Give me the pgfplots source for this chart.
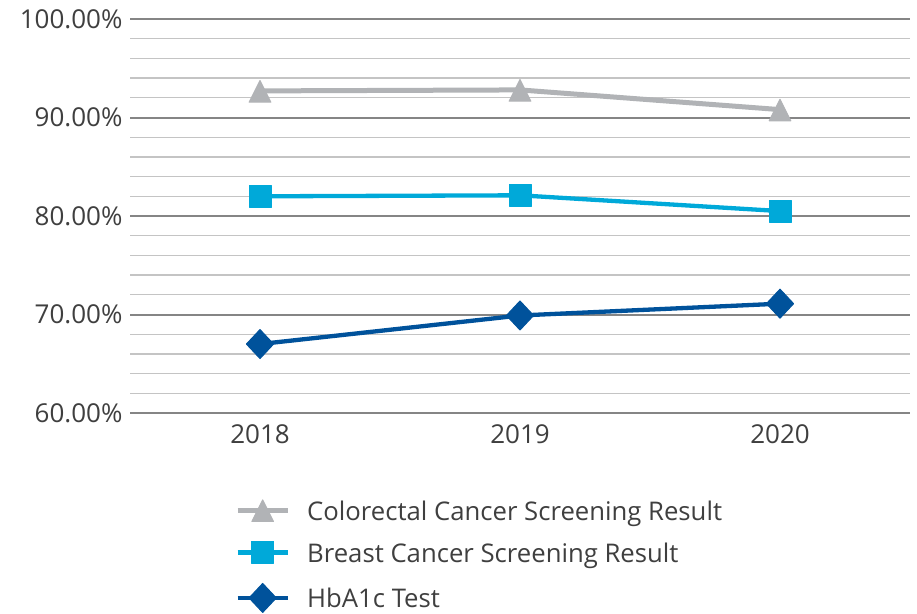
\documentclass[border=0pt]{standalone}
\usepackage{fontspec}
\setmainfont{Open Sans}
\usepackage{pgfplots}
\pgfplotsset{compat=1.18}
\definecolor{cgray}{HTML}{B1B3B6}
\definecolor{cblue}{HTML}{00A9D9}
\definecolor{cdark}{HTML}{00529B}
\definecolor{gmaj}{HTML}{858585}
\definecolor{gmin}{HTML}{C4C4C4}
\definecolor{txt}{HTML}{3F3F3F}
\begin{document}
\begin{tikzpicture}[x=1pt,y=1pt]
\useasboundingbox (0,0) rectangle (917,613);
\begin{axis}[at={(130pt,200pt)}, anchor=south west, scale only axis,
  width=780pt, height=394pt,
  xmin=-0.5, xmax=2.5, ymin=60, ymax=100,
  xtick={0,1,2}, xticklabels={2018,2019,2020},
  ytick={60,70,80,90,100}, minor ytick={62,64,...,98},
  /pgf/number format/assume math mode=true,
  yticklabel={\pgfmathprintnumber[fixed,fixed zerofill,precision=2]{\tick}\%},
  axis line style={draw=none}, major tick length=0pt, minor tick length=0pt,
  ymajorgrids, yminorgrids,
  major grid style={gmaj, line width=2pt},
  minor grid style={gmin, line width=1.3pt},
  tick label style={font=\fontsize{26}{30}\selectfont, text=txt},
  yticklabel style={xshift=-4pt},
  xticklabel style={yshift=-8pt},
  clip=false,
  legend cell align=left,
  legend style={at={(axis description cs:0.1346,-0.22)}, anchor=north west,
    draw=none, fill=none, inner sep=0pt, row sep=20pt,
    font=\fontsize{25.7}{30}\selectfont, text=txt,
    nodes={inner sep=0pt, text height=20pt, text depth=0pt},
    /tikz/every odd column/.append style={column sep=17pt}},
  legend image code/.code={%
    \draw[#1, mark=none] (0pt,0pt) -- (50pt,0pt);
    \draw[#1] plot coordinates {(25pt,0pt)};},
]
\addplot[cgray, line width=5pt, mark=triangle*, mark size=12.5pt,
  mark options={solid, line width=1pt, line join=round, yscale=1.15, yshift=-3.5pt}]
  coordinates {(0,92.7) (1,92.8) (2,90.8)};
\addlegendentry{Colorectal Cancer Screening Result}
\addplot[cblue, line width=4.3pt, mark=square*, mark size=11pt,
  mark options={solid, line width=1pt, line join=round}]
  coordinates {(0,82.0) (1,82.1) (2,80.5)};
\addlegendentry{Breast Cancer Screening Result}
\addplot[cdark, line width=4.3pt, mark=diamond*, mark size=14.5pt,
  mark options={solid, line width=1pt, line join=round, xscale=1.25}]
  coordinates {(0,67.0) (1,69.9) (2,71.1)};
\addlegendentry{HbA1c Test}
\end{axis}
\end{tikzpicture}
\end{document}
